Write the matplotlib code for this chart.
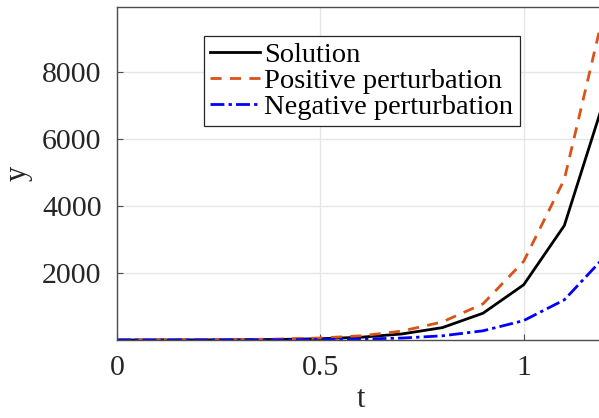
import numpy as np
import matplotlib.pyplot as plt

t = [0.0, 0.1, 0.2, 0.3, 0.4, 0.5, 0.6, 0.7, 0.8, 0.9, 1.0, 1.1, 1.2]
solution = [1, 2, 4, 8.5, 18, 39, 83, 180, 370, 800, 1650, 3420, 7250]
positive = [1.6, 3.3, 7, 14, 29, 60, 125, 265, 540, 1080, 2350, 4800, 9950]
negative = [0.3, 0.7, 1.4, 3, 6, 13, 27, 58, 125, 275, 580, 1200, 2500]

yticks = [2000, 4000, 6000, 8000]
xticks = [0, 0.5, 1]

plt.rcParams['font.family'] = ['Liberation Serif', 'DejaVu Serif']

fig = plt.figure(figsize=(5.99, 4.18), dpi=100)
ax = fig.add_axes([117/599, 78/418, 488/599, 333/418])

ax.plot(t, solution, color='black', lw=2, label='Solution')
ax.plot(t, positive, color='#D95319', lw=2, ls=(0, (4, 3)), label='Positive perturbation')
ax.plot(t, negative, color='#0000FF', lw=2, ls=(0, (5, 1.5, 1.2, 1.5)), label='Negative perturbation')

ax.set_xlim(0, 1.2)
ax.set_ylim(min(negative), max(positive))
ax.set_xticks(xticks)
ax.set_xticklabels(['0', '0.5', '1'])
ax.set_yticks(yticks)
ax.grid(True, color='#e6e6e6', lw=1)
ax.set_axisbelow(True)
ax.tick_params(direction='in', length=4, width=0.8, color='#4d4d4d',
               labelsize=21.5, labelcolor='#262626', pad=11)
for s in ax.spines.values():
    s.set_color('#4d4d4d')
    s.set_linewidth(1)

ax.set_xlabel('t', fontsize=22, color='#262626', labelpad=3)
ax.set_ylabel('y', fontsize=22, color='#262626', labelpad=7)

leg = ax.legend(loc='upper left', bbox_to_anchor=(204/599, 1 - 36/418),
                bbox_transform=fig.transFigure, borderaxespad=0,
                fontsize=20.5, fancybox=False, framealpha=1, edgecolor='#262626',
                handlelength=1.75, handletextpad=0.15, labelspacing=0.0,
                borderpad=0.22)
leg.get_frame().set_linewidth(0.9)

fig.savefig('out.png', dpi=100)
